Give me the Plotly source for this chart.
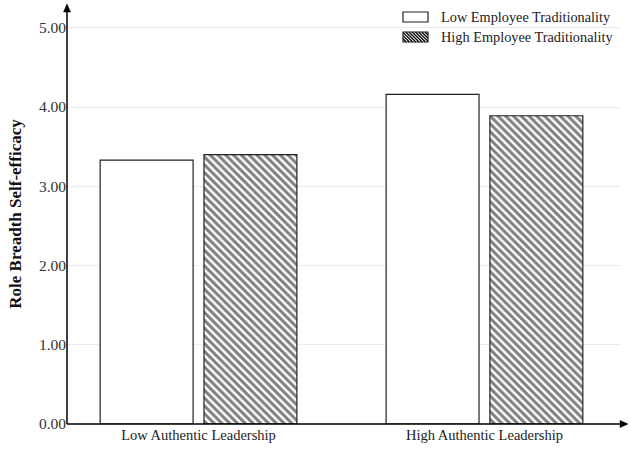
import plotly.graph_objects as go

categories = ["Low Authentic Leadership", "High Authentic Leadership"]
low_trad = [3.33, 4.16]
high_trad = [3.40, 3.89]
series_names = ["Low Employee Traditionality", "High Employee Traditionality"]
y_ticks = [0, 1, 2, 3, 4, 5]

W, H = 630, 451
L, R, T, B = 67, 10, 4, 27
PW, PH = W - L - R, H - T - B

def px(x):
    return (x - L) / PW

def py(y):
    return (H - B - y) / PH

FONT = "Liberation Serif"
xpos = list(range(len(categories)))

fig = go.Figure()
fig.add_trace(go.Bar(
    x=xpos, y=low_trad, name=series_names[0], width=0.325, offset=-0.344,
    marker=dict(color="white", line=dict(color="#222", width=1.2)),
    showlegend=False,
))
fig.add_trace(go.Bar(
    x=xpos, y=high_trad, name=series_names[1], width=0.325, offset=0.019,
    marker=dict(color="white", line=dict(color="#222", width=1.2),
                pattern=dict(shape="\\", fgcolor="black", bgcolor="white", size=5.5, solidity=0.55)),
    showlegend=False,
))

shapes = []
# axes with arrows
shapes.append(dict(type="line", xref="paper", yref="paper", x0=0, y0=0, x1=px(624), y1=0,
                   line=dict(color="black", width=1.5)))
shapes.append(dict(type="line", xref="paper", yref="paper", x0=0, y0=0, x1=0, y1=py(8),
                   line=dict(color="black", width=1.5)))
# arrowheads
shapes.append(dict(type="path", xref="paper", yref="paper",
                   path=f"M {px(628)} {py(424)} L {px(620)} {py(420.5)} L {px(620)} {py(427.5)} Z",
                   fillcolor="black", line=dict(color="black", width=0.5)))
shapes.append(dict(type="path", xref="paper", yref="paper",
                   path=f"M {px(67)} {py(4)} L {px(63.5)} {py(12)} L {px(70.5)} {py(12)} Z",
                   fillcolor="black", line=dict(color="black", width=0.5)))

# legend
lx0, lx1 = 403, 428
boxes = [(12, 22), (32, 42)]
shapes.append(dict(type="rect", xref="paper", yref="paper",
                   x0=px(lx0), x1=px(lx1), y0=py(boxes[0][1]), y1=py(boxes[0][0]),
                   fillcolor="white", line=dict(color="#222", width=1.2)))
yt, yb = boxes[1]
hh = yb - yt
c = -hh
while c < (lx1 - lx0):
    xa = max(0, c)
    xb = min(lx1 - lx0, c + hh)
    if xb > xa:
        shapes.append(dict(type="line", xref="paper", yref="paper",
                           x0=px(lx0 + xa), y0=py(yt + xa - c),
                           x1=px(lx0 + xb), y1=py(yt + xb - c),
                           line=dict(color="black", width=1.3)))
    c += 3.2
shapes.append(dict(type="rect", xref="paper", yref="paper",
                   x0=px(lx0), x1=px(lx1), y0=py(yb), y1=py(yt),
                   fillcolor="rgba(0,0,0,0)", line=dict(color="#222", width=1.2)))

annotations = []
for i, name in enumerate(series_names):
    yc = (boxes[i][0] + boxes[i][1]) / 2
    annotations.append(dict(text=name, xref="paper", yref="paper", x=px(439), y=py(yc),
                            xanchor="left", yanchor="middle", showarrow=False,
                            font=dict(family=FONT, size=14.3, color="#222")))

fig.update_layout(
    width=W, height=H,
    margin=dict(l=L, r=R, t=T, b=B),
    paper_bgcolor="white", plot_bgcolor="white",
    barmode="overlay",
    shapes=shapes, annotations=annotations,
    font=dict(family=FONT, color="#333"),
    xaxis=dict(range=[-0.46, 1.474], tickvals=xpos, ticktext=categories,
               showgrid=False, zeroline=False, showline=False, ticks="",
               tickfont=dict(family=FONT, size=14.5, color="#222")),
    yaxis=dict(range=[0, 5.3], tickvals=y_ticks, tickformat=".2f",
               showgrid=True, gridcolor="#ebebeb", gridwidth=1,
               zeroline=False, showline=False, ticks="",
               tickfont=dict(family=FONT, size=15.5, color="#333"),
               title=dict(text="<b>Role Breadth Self-efficacy</b>", standoff=12,
                          font=dict(family=FONT, size=17, color="#111"))),
)

fig.write_html("out.html")
